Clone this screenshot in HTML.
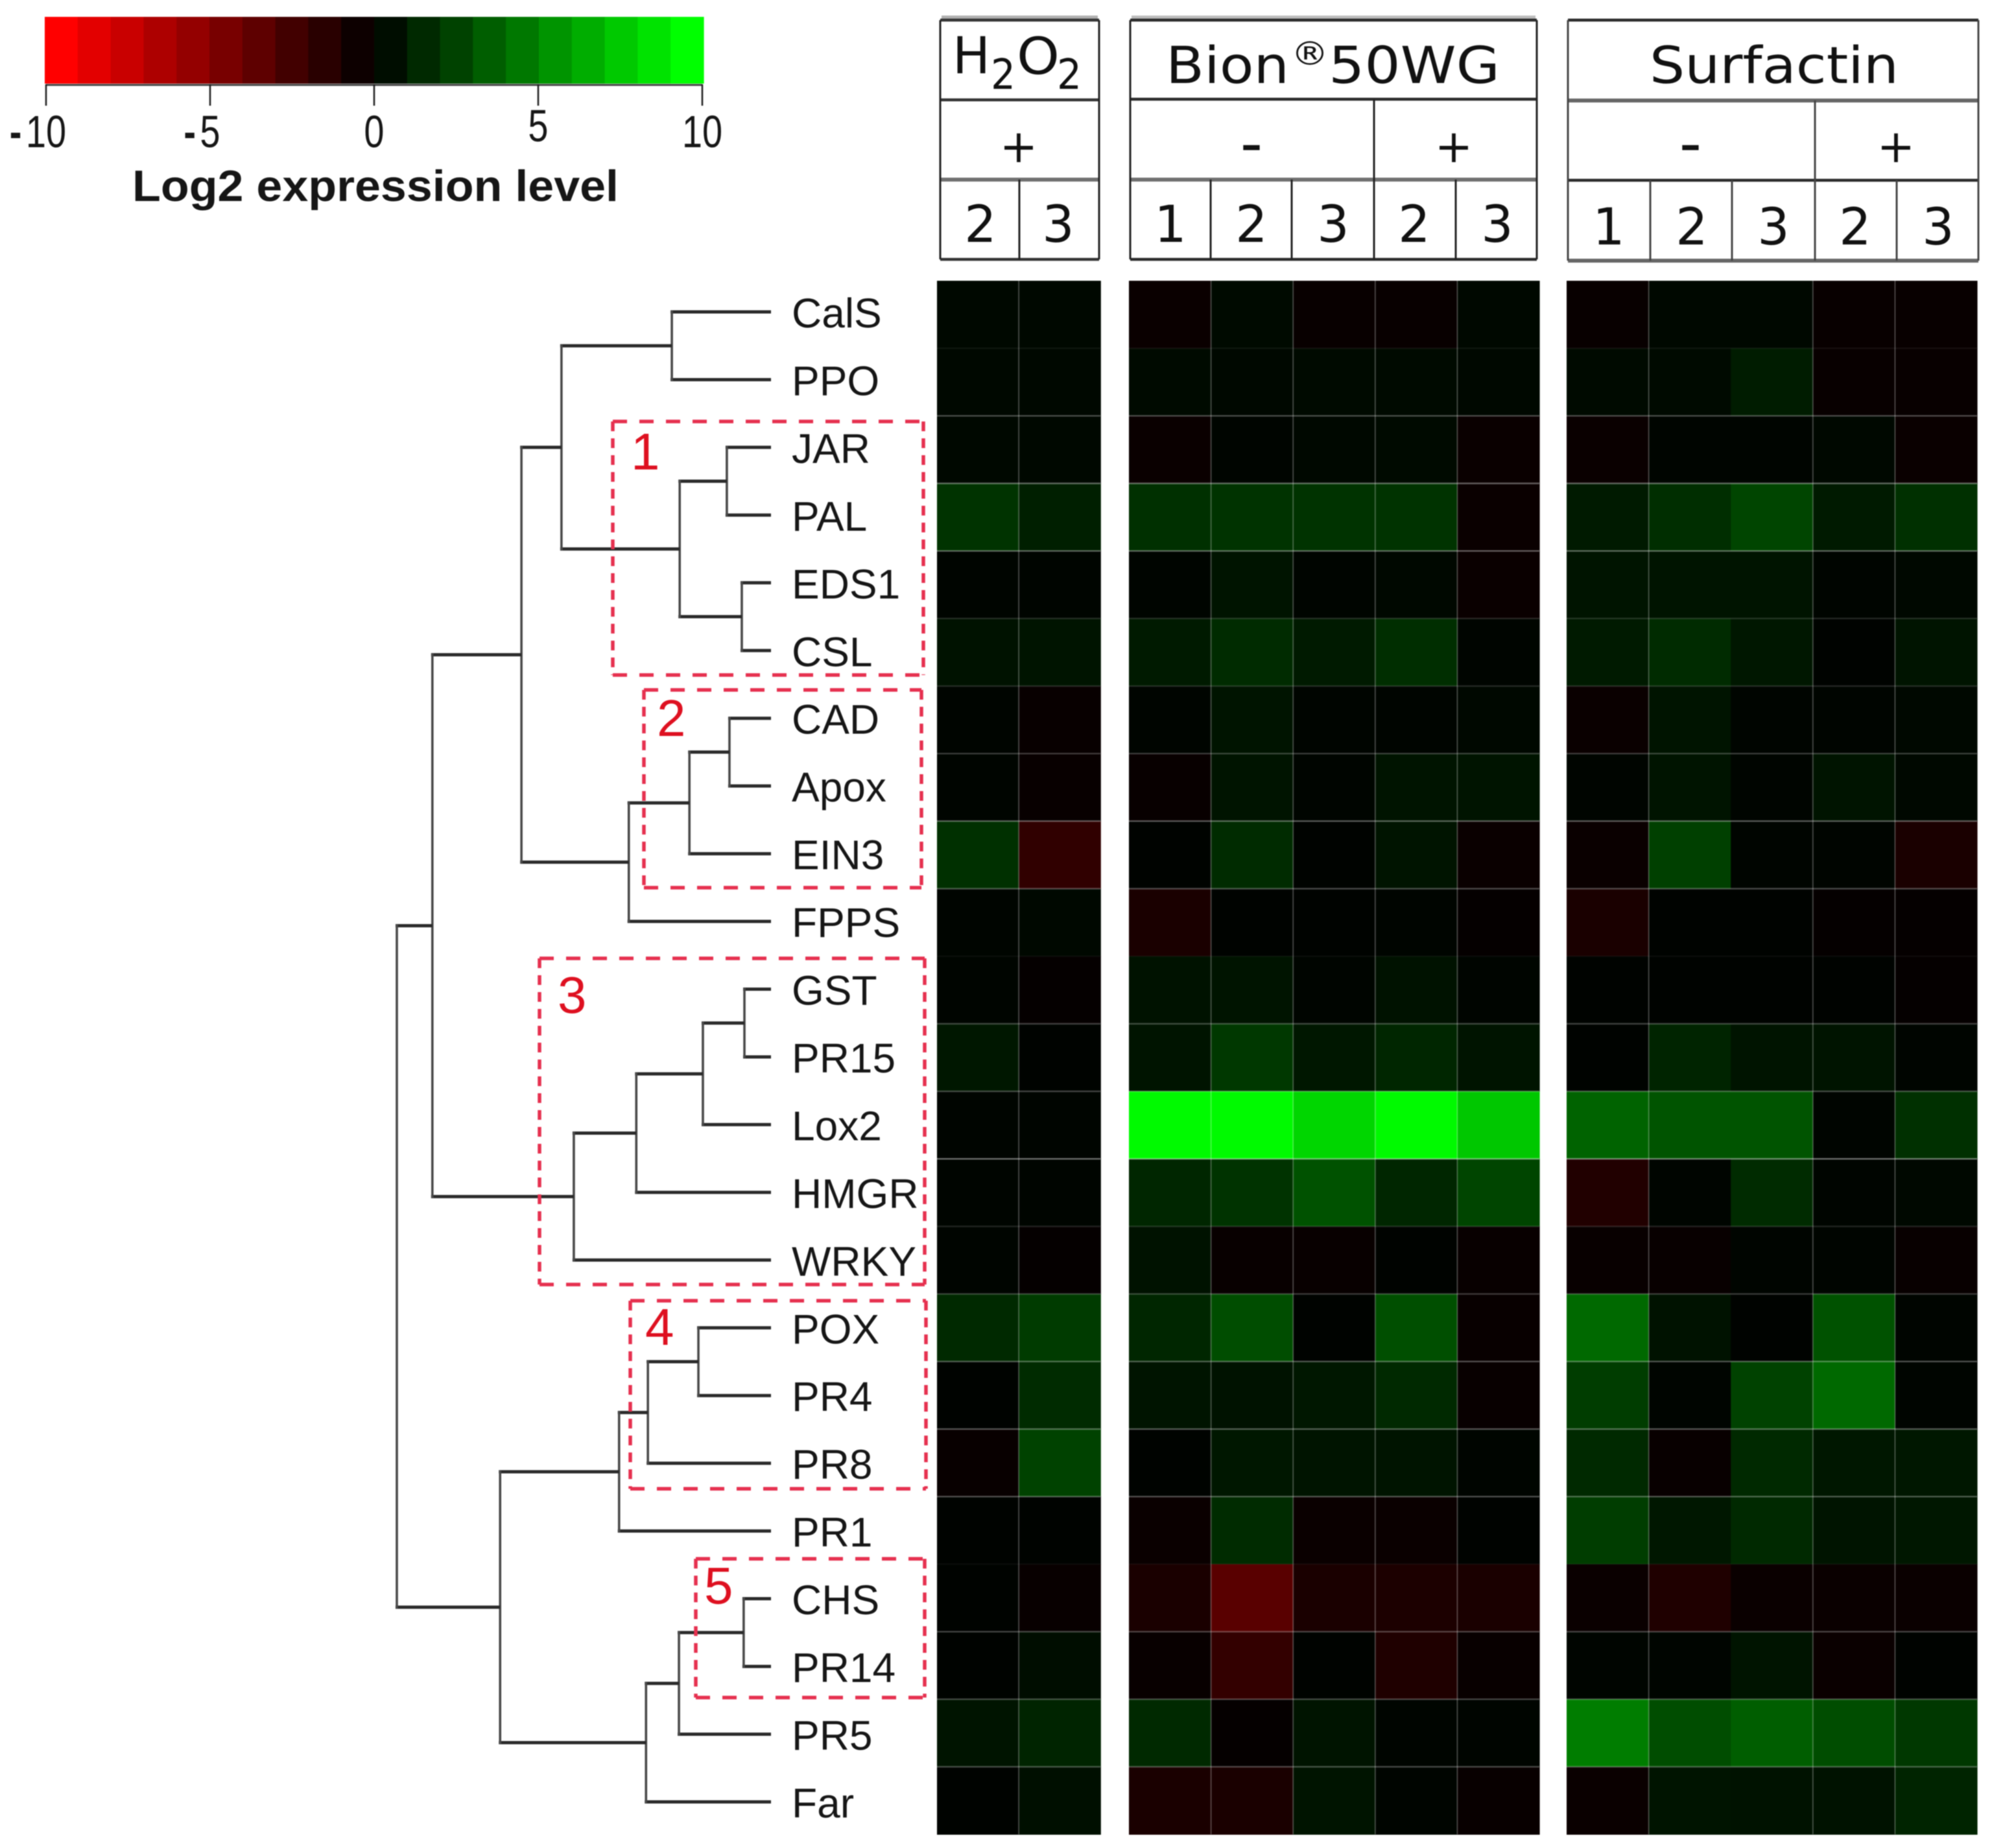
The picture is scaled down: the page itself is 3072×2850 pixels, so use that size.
<!DOCTYPE html>
<html lang="en">
<head>
<meta charset="utf-8">
<title>Log2 expression heatmap with gene dendrogram</title>
<style>
  html, body { margin: 0; padding: 0; background: #fff; }
  body { width: 3072px; height: 2850px; overflow: hidden; }
  svg { display: block; filter: blur(0.9px); }
  .hdr { font-family: "DejaVu Sans", "Liberation Sans", sans-serif; fill: #111; }
  .lab { font-family: "Liberation Sans", sans-serif; fill: #161616; }
  .num { font-family: "Liberation Sans", sans-serif; fill: #de1020; font-size: 80px; }
  .dash { stroke: #e6304f; stroke-width: 5.5; fill: none; }
</style>
</head>
<body>
<svg id="chart" xmlns="http://www.w3.org/2000/svg" width="3072" height="2850" viewBox="0 0 3072 2850">
  <rect width="3072" height="2850" fill="#fff"/>
  <g id="legend"></g>
  <g id="dendrogram"></g>
  <g id="labels"></g>
  <g id="heat"></g>
  <g id="grid"></g>

  <g fill="none">
    <path d="M1452 27H1693" stroke="#b0b0b0" stroke-width="6"/>
    <path d="M1450 31H1695M1450 154H1695M1450 400H1695" stroke="#333" stroke-width="4.5"/>
    <path d="M1450 277H1695" stroke="#707070" stroke-width="6"/>
    <path d="M1450 31V400M1695 31V400M1572 277V400" stroke="#222" stroke-width="3"/>
  </g>
  <g fill="none">
    <path d="M1745 27H2368" stroke="#bcbcbc" stroke-width="6"/>
    <path d="M1743 31H2370M1743 153H2370M1743 400H2370" stroke="#2a2a2a" stroke-width="4.5"/>
    <path d="M1743 277H2370" stroke="#707070" stroke-width="6"/>
    <path d="M1743 31V400M2370 31V400M2119 153V400M1867 277V400M1992 277V400M2245 277V400" stroke="#222" stroke-width="3"/>
  </g>
  <g fill="none">
    <path d="M2418 31H3051M2418 278H3051" stroke="#2a2a2a" stroke-width="4.5"/>
    <path d="M2418 155H3051M2418 402H3051" stroke="#666" stroke-width="6"/>
    <path d="M2418 31V402M3051 31V402M2799 155V402M2545 278V402M2671 278V402M2925 278V402" stroke="#444" stroke-width="3"/>
  </g>

  <g class="hdr">
    <text x="1469" y="113" font-size="78" textLength="58" lengthAdjust="spacingAndGlyphs">H</text>
    <text x="1528" y="137" font-size="64" textLength="38" lengthAdjust="spacingAndGlyphs">2</text>
    <text x="1568" y="114" font-size="78" textLength="66" lengthAdjust="spacingAndGlyphs">O</text>
    <text x="1630" y="137" font-size="64" textLength="38" lengthAdjust="spacingAndGlyphs">2</text>
    <text x="1798" y="128" font-size="78" textLength="190" lengthAdjust="spacingAndGlyphs">Bion</text>
    <text x="1991" y="100" font-size="50" textLength="58" lengthAdjust="spacingAndGlyphs">®</text>
    <text x="2049" y="128" font-size="78" textLength="264" lengthAdjust="spacingAndGlyphs">50WG</text>
    <text x="2544" y="128" font-size="78" textLength="384" lengthAdjust="spacingAndGlyphs">Surfactin</text>
    <g text-anchor="middle" font-size="70">
      <text x="1571" y="250">+</text>
      <text x="2242" y="250">+</text>
      <text x="2924" y="250">+</text>
    </g>
    <g text-anchor="middle" font-size="96">
      <text x="1930" y="254">-</text>
      <text x="2607" y="254">-</text>
    </g>
    <g text-anchor="middle" font-size="78">
      <text x="1512" y="373">2</text>
      <text x="1632" y="373">3</text>
      <text x="1805" y="373">1</text>
      <text x="1930" y="373">2</text>
      <text x="2056" y="373">3</text>
      <text x="2181" y="373">2</text>
      <text x="2309" y="373">3</text>
      <text x="2481" y="377">1</text>
      <text x="2609" y="377">2</text>
      <text x="2735" y="377">3</text>
      <text x="2861" y="377">2</text>
      <text x="2989" y="377">3</text>
    </g>
  </g>

  <g>
    <path class="dash" stroke-dasharray="22 19" d="M945 650H1424M945 1041H1424"/>
    <path class="dash" stroke-dasharray="15 11" d="M945 650V1041M1424 650V1041"/>
    <text class="num" x="973" y="724">1</text>
  </g>
  <g>
    <path class="dash" stroke-dasharray="22 19" d="M993 1064H1421M993 1369H1421"/>
    <path class="dash" stroke-dasharray="15 11" d="M993 1064V1369M1421 1064V1369"/>
    <text class="num" x="1013" y="1135">2</text>
  </g>
  <g>
    <path class="dash" stroke-dasharray="22 19" d="M832 1478H1426M832 1981H1426"/>
    <path class="dash" stroke-dasharray="15 11" d="M832 1478V1981M1426 1478V1981"/>
    <text class="num" x="860" y="1562">3</text>
  </g>
  <g>
    <path class="dash" stroke-dasharray="22 19" d="M972 2006H1428M972 2296H1428"/>
    <path class="dash" stroke-dasharray="15 11" d="M972 2006V2296M1428 2006V2296"/>
    <text class="num" x="995" y="2074">4</text>
  </g>
  <g>
    <path class="dash" stroke-dasharray="22 19" d="M1073 2404H1426M1073 2618H1426"/>
    <path class="dash" stroke-dasharray="15 11" d="M1073 2404V2618M1426 2404V2618"/>
    <text class="num" x="1086" y="2473">5</text>
  </g>
</svg>

<script>
// ---- data ----
const genes = ["CalS","PPO","JAR","PAL","EDS1","CSL","CAD","Apox","EIN3","FPPS","GST","PR15","Lox2","HMGR","WRKY","POX","PR4","PR8","PR1","CHS","PR14","PR5","Far"];

const h2o2Values = [
  [0.3,0.3],[0.3,0.3],[0.3,0.3],[2.0,1.2],[0.2,0.2],[0.7,0.8],[0.2,-0.3],[0.2,-0.3],
  [1.9,-1.9],[0.2,0.3],[0.2,-0.2],[0.9,0.1],[0.2,0.2],[0.2,0.2],[0.2,-0.2],[1.6,2.3],
  [0.1,1.7],[-0.3,2.6],[0.1,0.1],[0.1,-0.3],[0.1,0.5],[0.8,1.4],[0.1,0.6]
];
const bionValues = [
  [-0.4,0.4,-0.3,-0.3,0.3],[0.4,0.3,0.4,0.4,0.3],[-0.4,0.2,0.3,0.4,-0.4],[1.9,2.0,2.0,2.0,-0.4],
  [0.2,0.8,0.2,0.3,-0.4],[1.0,1.7,1.0,1.8,0.2],[0.2,0.8,0.2,0.2,0.3],[-0.3,0.8,0.2,0.8,0.8],
  [0.1,1.7,0.1,0.8,-0.4],[-1.0,0.1,0.1,0.2,-0.2],[0.7,0.8,0.2,0.7,0.2],[0.8,2.2,0.9,1.5,0.8],
  [9.8,9.8,8.4,9.8,7.8],[1.5,2.0,3.2,1.5,2.7],[0.7,-0.3,-0.3,0.1,-0.3],[1.5,3.0,0.1,3.1,-0.3],
  [0.8,0.7,0.9,1.6,-0.3],[0.1,0.9,0.8,0.8,0.2],[-0.4,1.7,-0.4,-0.4,0.1],[-1.0,-3.5,-1.0,-1.1,-1.0],
  [-0.3,-2.0,0.1,-1.2,-0.3],[1.6,-0.2,0.8,0.2,0.2],[-1.0,-1.0,0.8,0.2,-0.3]
];
const surfactinValues = [
  [-0.3,0.3,0.3,-0.3,-0.3],[0.4,0.4,1.1,-0.3,-0.3],[-0.4,0.2,0.2,0.3,-0.4],[1.0,1.8,2.7,1.0,1.9],
  [0.8,0.8,0.8,0.2,0.3],[1.0,1.7,0.9,0.1,0.8],[-0.4,0.8,0.2,0.2,0.3],[0.2,0.8,0.2,0.8,0.3],
  [-0.4,2.5,0.2,0.2,-1.0],[-1.0,0.1,0.1,-0.2,-0.2],[0.1,0.1,0.1,0.1,-0.2],[0.1,1.4,0.8,0.8,0.2],
  [3.9,3.3,3.3,0.2,1.9],[-1.3,0.2,1.7,0.2,0.3],[-0.3,-0.3,0.2,0.2,-0.3],[4.1,0.7,0.1,3.2,0.2],
  [2.4,0.2,2.6,4.1,0.2],[1.6,-0.3,1.6,0.9,0.9],[2.4,0.9,1.6,0.8,0.9],[-0.4,-1.2,-0.4,-0.4,-0.4],
  [0.2,0.2,0.8,-0.4,0.1],[4.9,3.0,3.7,3.0,2.2],[-0.4,0.8,0.7,0.7,1.4]
];

// Nested merges: [merge height (0-100), left child, right child]; a number is a gene index.
const dendrogramTree = [100,
  [90.5,
    [66.7,
      [56, [26.5, 0, 1], [24.4, [11.8, 2, 3], [7.8, 4, 5]]],
      [38, [21.8, [11.1, 6, 7], 8], 9]
    ],
    [52.7, [36, [18.2, [7.1, 10, 11], 12], 13], 14]
  ],
  [72.4,
    [40.6, [32.9, [19.4, 15, 16], 17], 18],
    [33.4, [24.6, [7.3, 19, 20], 21], 22]
  ]
];

const keyTicks = [-10, -5, 0, 5, 10];
const keyLevels = [-10,-8.9,-7.9,-6.8,-5.8,-4.7,-3.7,-2.6,-1.6,-0.5,0.5,1.6,2.6,3.7,4.7,5.8,6.8,7.9,8.9,10];
const keyTitle = "Log2 expression level";

// ---- scales ----
const NS = "http://www.w3.org/2000/svg";
const ROW_TOP = 433, ROW_H = 104.17;
const COL_W = 126.6;
function yRow(r) { return ROW_TOP + r * ROW_H; }
function yLeaf(r) { return 481 + r * 104.45; }
function xDend(h) { return 1189 - h * 5.77; }
function xKey(v) { return 71 + (v + 10) * 50.6; }
function heatColor(v) {
  const c = Math.round(Math.min(1, Math.abs(v) / 10) * 255);
  return v >= 0 ? "rgb(0," + c + ",0)" : "rgb(" + c + ",0,0)";
}
function mk(tag, attrs, parent) {
  const el = document.createElementNS(NS, tag);
  for (const k in attrs) el.setAttribute(k, attrs[k]);
  parent.appendChild(el);
  return el;
}

// ---- heatmap ----
const heat = document.getElementById("heat");
const panels = [
  { key: "h2o2", left: 1445, width: 126.1, values: h2o2Values },
  { key: "bion", left: 1741, width: COL_W, values: bionValues },
  { key: "surfactin", left: 2416, width: COL_W, values: surfactinValues }
];
panels.forEach(function (p) {
  p.values.forEach(function (row, r) {
    row.forEach(function (v, c) {
      const el = mk("rect", {
        x: p.left + c * p.width, y: yRow(r),
        width: p.width + 0.6, height: ROW_H + 0.6,
        fill: heatColor(v)
      }, heat);
      
      
    });
  });
});

// ---- grid ----
const grid = document.getElementById("grid");
const gridStrength = [0.06,0.28,0.36,0.36,0.14,0.14,0.22,0.34,0.28,0.04,0.24,0.26,0.42,0.12,0.22,0.3,0.32,0.3,0.04,0.26,0.26,0.26];
panels.forEach(function (p) {
  const n = p.values[0].length;
  const right = p.left + n * p.width;
  gridStrength.forEach(function (a, i) {
    const ln = mk("line", {
      x1: p.left, x2: right, y1: yRow(i + 1), y2: yRow(i + 1),
      stroke: "#fff", "stroke-opacity": a, "stroke-width": 2.4
    }, grid);
    
    
  });
  for (let c = 1; c < n; c++) {
    if (p.key === "surfactin" && c === 2) continue;
    const ln = mk("line", {
      x1: p.left + c * p.width, x2: p.left + c * p.width, y1: ROW_TOP, y2: yRow(23),
      stroke: "#fff", "stroke-opacity": 0.28, "stroke-width": 1.8
    }, grid);
    
    
  }
});

// ---- gene labels ----
const labels = document.getElementById("labels");
genes.forEach(function (g, i) {
  const t = mk("text", { x: 1221, y: yLeaf(i) + 24, "font-size": 64, class: "lab" }, labels);
  t.textContent = g;
  
  
});

// ---- dendrogram ----
const dend = document.getElementById("dendrogram");
function drawNode(node) {
  if (typeof node === "number") return { x: xDend(0), y: yLeaf(node) };
  const x = xDend(node[0]);
  const a = drawNode(node[1]);
  const b = drawNode(node[2]);
  [a, b].forEach(function (ch) {
    const h = mk("line", { x1: x - 2, x2: ch.x, y1: ch.y, y2: ch.y, stroke: "#2a2a2a", "stroke-width": 5 }, dend);
    
    
  });
  const v = mk("line", { x1: x, x2: x, y1: a.y - 2, y2: b.y + 2, stroke: "#484848", "stroke-width": 3.6 }, dend);
  
  
  return { x: x, y: (a.y + b.y) / 2 };
}
drawNode(dendrogramTree);

// ---- colour key ----
const legend = document.getElementById("legend");
const bandW = (xKey(10) + 2 - 69) / keyLevels.length;
keyLevels.forEach(function (v, i) {
  const band = mk("rect", { x: 69 + i * bandW, y: 26, width: bandW + 0.6, height: 103, fill: heatColor(v) }, legend);
  
  
});
const axisLine = mk("line", { x1: xKey(-10), x2: xKey(10), y1: 131, y2: 131, stroke: "#444", "stroke-width": 3 }, legend);


const KEY_SQUEEZE = 0.8, KEY_FS = 70;
keyTicks.forEach(function (v) {
  const x = xKey(v);
  const tick = mk("line", { x1: x, x2: x, y1: 130, y2: 163, stroke: "#222", "stroke-width": 2.6 }, legend);
  
  
  const label = String(Math.abs(v));
  const endX = x + label.length * 0.556 * KEY_FS * KEY_SQUEEZE / 2;
  const baseY = v === 5 ? 218 : 227;
  const t = mk("text", {
    "text-anchor": "end", "font-size": KEY_FS, class: "lab",
    transform: "translate(" + endX + " " + baseY + ") scale(" + KEY_SQUEEZE + " 1)"
  }, legend);
  if (v < 0) {
    const sign = mk("tspan", { "font-weight": "bold" }, t);
    sign.textContent = "-";
    
    
    const rest = mk("tspan", { dx: 8 }, t);
    rest.textContent = label;
    
    
  } else {
    t.textContent = label;
  }
  
  
});
const keyT = mk("text", {
  x: 204, y: 310, "font-size": 68, "font-weight": "bold", class: "lab",
  textLength: 750, lengthAdjust: "spacingAndGlyphs"
}, legend);
keyT.textContent = keyTitle;


</script>
</body>
</html>
